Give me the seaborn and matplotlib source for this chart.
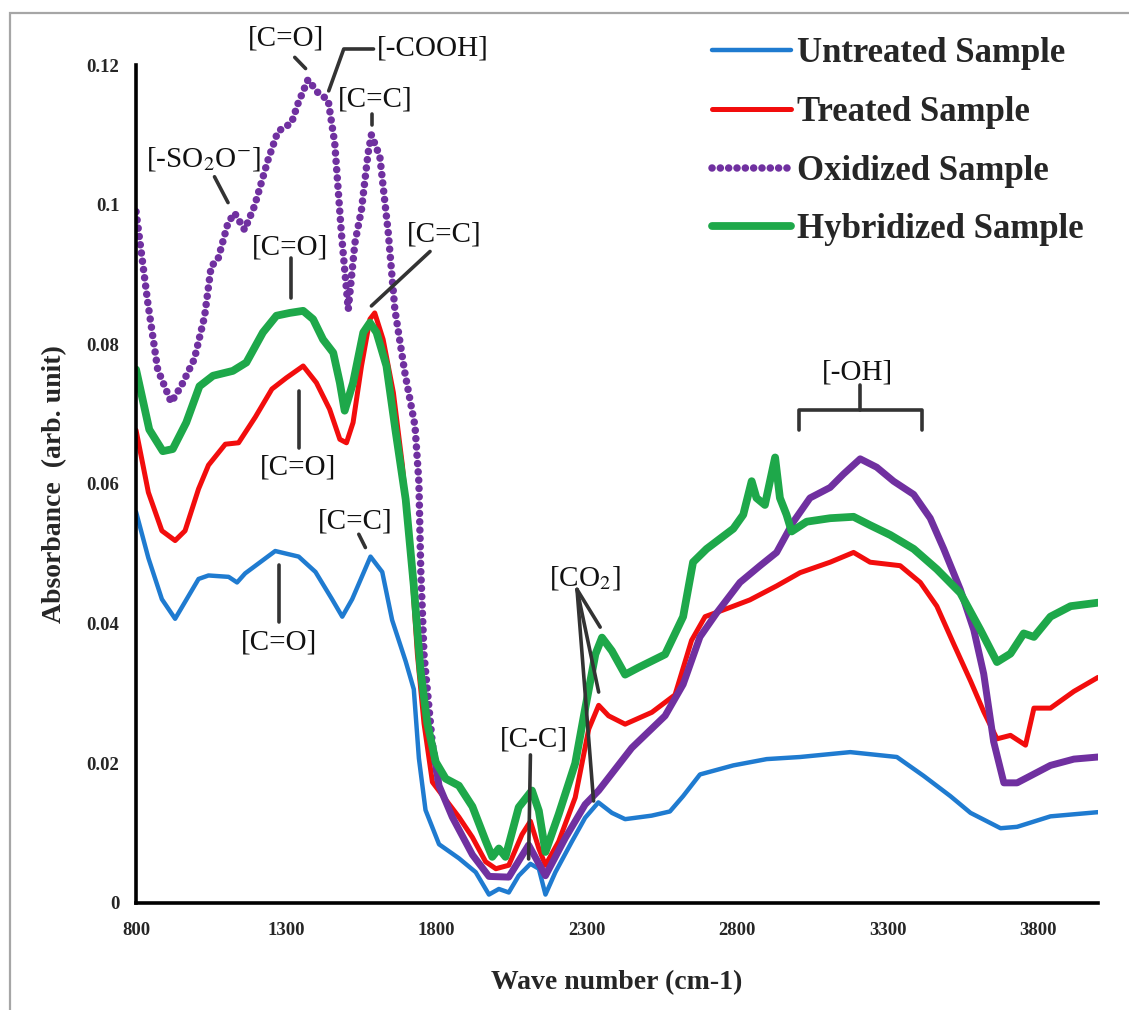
import numpy as np
import pandas as pd
import matplotlib
matplotlib.use("Agg")
import matplotlib.pyplot as plt
from matplotlib.patches import Rectangle
import seaborn as sns

# FTIR spectra (wave number in cm-1, absorbance)
untreated_wn = [800, 841, 886, 930, 1008, 1041, 1108, 1136, 1163, 1263, 1341, 1397, 1452, 1486, 1519,
                1580, 1619, 1652, 1697, 1724, 1741, 1763, 1808, 1874, 1930, 1974, 2007, 2040, 2073,
                2112, 2140, 2162, 2195, 2250, 2294, 2338, 2383, 2427, 2515, 2576, 2620, 2676, 2787,
                2898, 3009, 3176, 3331, 3420, 3509, 3576, 3676, 3731, 3842, 4000]
untreated_abs = [0.0560, 0.0494, 0.0435, 0.0407, 0.0464, 0.0469, 0.0467, 0.0459, 0.0472, 0.0504,
                 0.0496, 0.0474, 0.0435, 0.0410, 0.0435, 0.0496, 0.0474, 0.0405, 0.0346, 0.0306,
                 0.0207, 0.0133, 0.0084, 0.0064, 0.0044, 0.0012, 0.0020, 0.0015, 0.0039, 0.0056,
                 0.0049, 0.0012, 0.0044, 0.0088, 0.0122, 0.0144, 0.0129, 0.0120, 0.0125, 0.0131,
                 0.0153, 0.0184, 0.0197, 0.0206, 0.0209, 0.0216, 0.0209, 0.0182, 0.0153, 0.0129,
                 0.0107, 0.0109, 0.0124, 0.0130]

treated_wn = [800, 841, 886, 930, 963, 1008, 1041, 1097, 1141, 1197, 1252, 1300, 1356, 1400, 1444,
              1478, 1500, 1522, 1550, 1578, 1594, 1622, 1656, 1686, 1713, 1736, 1758, 1786, 1830,
              1874, 1919, 1963, 1997, 2040, 2084, 2112, 2140, 2162, 2206, 2261, 2306, 2339, 2372,
              2427, 2516, 2593, 2648, 2693, 2781, 2842, 2931, 3009, 3109, 3187, 3242, 3342, 3409,
              3464, 3520, 3576, 3620, 3664, 3709, 3759, 3787, 3842, 3920, 4000]
treated_abs = [0.0677, 0.0588, 0.0533, 0.0519, 0.0533, 0.0593, 0.0627, 0.0657, 0.0659, 0.0696,
               0.0736, 0.0752, 0.0769, 0.0745, 0.0707, 0.0664, 0.0659, 0.0688, 0.0769, 0.0836,
               0.0845, 0.0807, 0.0731, 0.0627, 0.0504, 0.0356, 0.0257, 0.0173, 0.0148, 0.0123,
               0.0094, 0.0059, 0.0049, 0.0054, 0.0098, 0.0117, 0.0078, 0.0054, 0.0088, 0.0151,
               0.0249, 0.0283, 0.0268, 0.0256, 0.0273, 0.0298, 0.0376, 0.0410, 0.0424, 0.0434,
               0.0454, 0.0473, 0.0488, 0.0502, 0.0488, 0.0483, 0.0459, 0.0425, 0.0371, 0.0318,
               0.0274, 0.0235, 0.0240, 0.0226, 0.0279, 0.0279, 0.0303, 0.0323]

oxidized_wn = [800, 839, 872, 917, 950, 994, 1028, 1050, 1072, 1106, 1128, 1161, 1194, 1239, 1272,
               1317, 1339, 1372, 1406, 1439, 1461, 1483, 1506, 1528, 1550, 1572, 1583, 1611, 1639,
               1661, 1694, 1728, 1741, 1747, 1758, 1786, 1808, 1852, 1919, 1974, 2040, 2106, 2162,
               2228, 2294, 2339, 2449, 2560, 2620, 2676, 2731, 2809, 2876, 2931, 2987, 3042, 3109,
               3153, 3209, 3264, 3320, 3387, 3442, 3487, 3542, 3587, 3620, 3653, 3687, 3731, 3842,
               3920, 4000]
oxidized_abs = [0.0990, 0.0860, 0.0764, 0.0717, 0.0740, 0.0779, 0.0840, 0.0912, 0.0921, 0.0974,
                0.0988, 0.0964, 0.0998, 0.1064, 0.1105, 0.1117, 0.1145, 0.1179, 0.1160, 0.1150,
                0.1088, 0.0960, 0.0850, 0.0945, 0.0993, 0.1074, 0.1100, 0.1069, 0.0960, 0.0850,
                0.0760, 0.0683, 0.0602, 0.0479, 0.0356, 0.0227, 0.0168, 0.0123, 0.0069, 0.0038,
                0.0037, 0.0083, 0.0039, 0.0093, 0.0141, 0.0161, 0.0222, 0.0268, 0.0313, 0.0381,
                0.0415, 0.0459, 0.0483, 0.0502, 0.0546, 0.0580, 0.0595, 0.0614, 0.0636, 0.0624,
                0.0604, 0.0585, 0.0551, 0.0507, 0.0449, 0.0391, 0.0328, 0.0231, 0.0172, 0.0172,
                0.0197, 0.0206, 0.0209]

hybrid_wn = [800, 844, 889, 922, 967, 1011, 1056, 1122, 1167, 1222, 1267, 1311, 1356, 1389, 1422,
             1456, 1478, 1494, 1522, 1556, 1578, 1600, 1633, 1663, 1697, 1724, 1747, 1769, 1797,
             1830, 1874, 1919, 1963, 1985, 2007, 2029, 2073, 2117, 2140, 2162, 2206, 2261, 2294,
             2328, 2350, 2383, 2427, 2471, 2560, 2620, 2653, 2698, 2787, 2820, 2848, 2864, 2892,
             2926, 2942, 2964, 2981, 3031, 3109, 3187, 3242, 3309, 3387, 3464, 3542, 3609, 3664,
             3709, 3753, 3787, 3842, 3909, 4000]
hybrid_abs = [0.0764, 0.0678, 0.0647, 0.0650, 0.0688, 0.0740, 0.0755, 0.0762, 0.0774, 0.0817,
              0.0841, 0.0845, 0.0848, 0.0836, 0.0807, 0.0788, 0.0745, 0.0705, 0.0745, 0.0817,
              0.0831, 0.0817, 0.0769, 0.0677, 0.0578, 0.0454, 0.0331, 0.0257, 0.0202, 0.0178,
              0.0168, 0.0138, 0.0089, 0.0066, 0.0078, 0.0066, 0.0137, 0.0161, 0.0132, 0.0073,
              0.0127, 0.0200, 0.0278, 0.0356, 0.0380, 0.0361, 0.0327, 0.0337, 0.0356, 0.0410,
              0.0488, 0.0507, 0.0536, 0.0556, 0.0604, 0.0580, 0.0570, 0.0638, 0.0580, 0.0556,
              0.0532, 0.0546, 0.0551, 0.0553, 0.0541, 0.0527, 0.0507, 0.0478, 0.0444, 0.0391,
              0.0345, 0.0357, 0.0386, 0.0381, 0.0410, 0.0425, 0.0430]

series_names = ["Untreated Sample", "Treated Sample", "Oxidized Sample", "Hybridized Sample"]
x_ticks = [800, 1300, 1800, 2300, 2800, 3300, 3800]
y_ticks = [0, 0.02, 0.04, 0.06, 0.08, 0.1, 0.12]
y_tick_labels = ["0", "0.02", "0.04", "0.06", "0.08", "0.1", "0.12"]

sns.set_style("white")
plt.rcParams["font.family"] = ["Liberation Serif", "DejaVu Serif"]
plt.rcParams["mathtext.fontset"] = "stix"

fig = plt.figure(figsize=(11.29, 10.10), dpi=100)
ax = fig.add_axes([0.1205, 0.106, 0.852, 0.8296])

# grey frame round the whole picture
fig.patches.append(Rectangle((10 / 1129, -0.05), 1.2, 1 - 13 / 1010 + 0.05,
                             transform=fig.transFigure, fill=False,
                             edgecolor="#a6a6a6", linewidth=1.6))

colors = ["#1f7bd0", "#f20d0d", "#7030a0", "#1ea84a"]
dots = dict(linestyle=(0, (0.01, 1.1)), dash_capstyle="round")

df_u = pd.DataFrame({"wn": untreated_wn, "abs": untreated_abs})
df_t = pd.DataFrame({"wn": treated_wn, "abs": treated_abs})
df_o = pd.DataFrame({"wn": oxidized_wn, "abs": oxidized_abs})
df_h = pd.DataFrame({"wn": hybrid_wn, "abs": hybrid_abs})

sns.lineplot(data=df_u, x="wn", y="abs", ax=ax, label=series_names[0], estimator=None,
             color=colors[0], linewidth=3.2)
sns.lineplot(data=df_t, x="wn", y="abs", ax=ax, label=series_names[1], estimator=None,
             color=colors[1], linewidth=3.6)
# the oxidized trace shows separate dots only on the steep left part, merging to a solid band after
sns.lineplot(data=df_o[df_o.wn <= 1808], x="wn", y="abs", ax=ax, label=series_names[2],
             estimator=None, color=colors[2], linewidth=5.4, **dots)
sns.lineplot(data=df_o[df_o.wn >= 1786], x="wn", y="abs", ax=ax, estimator=None,
             color=colors[2], linewidth=5.0)
sns.lineplot(data=df_h, x="wn", y="abs", ax=ax, label=series_names[3], estimator=None,
             color=colors[3], linewidth=5.6)

ax.set_xlim(800, 4000)
ax.set_ylim(0, 0.12)
ax.set_xticks(x_ticks)
ax.set_yticks(y_ticks)
ax.set_yticklabels(y_tick_labels)
for lab in ax.get_xticklabels() + ax.get_yticklabels():
    lab.set_fontweight("bold")
    lab.set_fontsize(13.5)
ax.tick_params(axis="both", direction="out", length=6, width=2, color="black", pad=6)
ax.tick_params(axis="x", pad=8)
for side in ["top", "right"]:
    ax.spines[side].set_visible(False)
for side in ["left", "bottom"]:
    ax.spines[side].set_linewidth(2.6)
    ax.spines[side].set_color("black")

ax.set_xlabel("Wave number (cm-1)", fontsize=20, fontweight="bold", labelpad=22)
ax.set_ylabel("Absorbance  (arb. unit)", fontsize=20, fontweight="bold", labelpad=14)

leg = ax.legend(loc="upper left", bbox_to_anchor=(0.631, 0.963), bbox_transform=fig.transFigure,
                frameon=False, fontsize=25, handlelength=2.25, handletextpad=0.2,
                labelspacing=0.74, borderpad=0, borderaxespad=0)
for t in leg.get_texts():
    t.set_fontweight("bold")

# peak labels with their leader lines
ann_kw = dict(fontsize=21, color="#111111", ha="center", va="center")
line_kw = dict(color="#333333", linewidth=2.6, clip_on=False)

def label(x, y, text, segs, **kw):
    ax.text(x, y, text, clip_on=False, **{**ann_kw, **kw})
    for xs, ys in segs:
        ax.plot(xs, ys, **line_kw)

label(1023, 0.1066, "[-SO$_2$O$^{-}$]", [([1061, 1106], [0.1040, 0.1003])])
label(1298, 0.1238, "[C=O]", [([1328, 1364], [0.1211, 0.1195])])
label(1600, 0.1223, "[-COOH]", [([1441, 1491, 1590], [0.1163, 0.1223, 0.1223])], ha="left")
label(1597, 0.1151, "[C=C]", [([1586, 1586], [0.1130, 0.1114])])
label(1825, 0.0957, "[C=C]", [([1778, 1583], [0.0933, 0.0855])])
label(1311, 0.0938, "[C=O]", [([1317, 1317], [0.0924, 0.0867])])
label(1339, 0.0624, "[C=O]", [([1342, 1342], [0.0733, 0.0652])])
label(1530, 0.0546, "[C=C]", [([1541, 1563], [0.0528, 0.0509])])
label(1274, 0.0373, "[C=O]", [([1277, 1277], [0.0484, 0.0402])])
label(2123, 0.0234, "[C-C]", [([2112, 2106], [0.0212, 0.0063])])
label(2294, 0.0466, "[CO$_2$]", [([2267, 2344], [0.0449, 0.0395]),
                                  ([2267, 2339], [0.0449, 0.0302]),
                                  ([2267, 2322], [0.0449, 0.0146])])
label(3199, 0.0759, "[-OH]", [([3006, 3006, 3415, 3415], [0.0677, 0.0706, 0.0706, 0.0677]),
                              ([3210, 3210], [0.0706, 0.0742])])

fig.savefig("out.png", dpi=100)
